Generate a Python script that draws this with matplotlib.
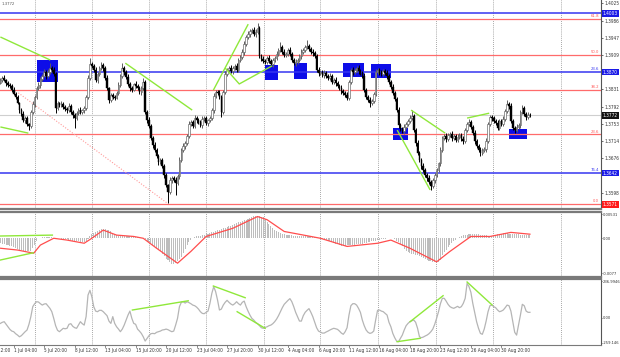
import numpy as np
import matplotlib.pyplot as plt
from matplotlib import font_manager
from matplotlib.patches import Rectangle
from matplotlib.transforms import blended_transform_factory

# pick a narrow font when one is installed (the original uses a condensed UI font)
_names = {f.name for f in font_manager.fontManager.ttflist}
_cond = any(f.name == 'DejaVu Sans' and f.stretch == 'condensed' for f in font_manager.fontManager.ttflist)
if 'Liberation Sans Narrow' in _names:
    plt.rcParams['font.family'] = ['Liberation Sans Narrow', 'DejaVu Sans']
    fs = 3.7
elif _cond:
    plt.rcParams['font.family'] = ['DejaVu Sans']
    plt.rcParams['font.stretch'] = 'condensed'
    fs = 3.4
else:
    plt.rcParams['font.family'] = ['Liberation Sans', 'DejaVu Sans']
    fs = 3.1

# ---- price data (H4 bars, closes in pips over 1.0000) ----
first_open = 3846
close_pips = [
    3852, 3857, 3852, 3845, 3841, 3839, 3830, 3821, 3814, 3800, 3784, 3775, 3762, 3766, 3753, 3748, 3780, 3798, 3814, 3834,
    3841, 3854, 3861, 3870, 3861, 3870, 3879, 3875, 3866, 3789, 3800, 3796, 3798, 3791, 3787, 3784, 3793, 3780, 3773, 3766,
    3778, 3784, 3780, 3784, 3789, 3814, 3857, 3888, 3884, 3875, 3852, 3866, 3879, 3886, 3879, 3857, 3834, 3807, 3818, 3814,
    3812, 3823, 3841, 3861, 3879, 3870, 3859, 3843, 3834, 3830, 3843, 3839, 3834, 3825, 3834, 3848, 3780, 3762, 3748, 3721,
    3705, 3694, 3680, 3667, 3671, 3658, 3637, 3615, 3599, 3626, 3631, 3626, 3619, 3635, 3671, 3694, 3703, 3710, 3726, 3753,
    3757, 3748, 3766, 3762, 3757, 3750, 3764, 3766, 3755, 3762, 3766, 3784, 3816, 3825, 3823, 3814, 3780, 3825, 3866, 3875,
    3879, 3872, 3879, 3884, 3875, 3897, 3904, 3915, 3934, 3949, 3956, 3963, 3965, 3956, 3961, 3970, 3906, 3900, 3895, 3893,
    3902, 3895, 3888, 3897, 3902, 3911, 3920, 3927, 3915, 3909, 3911, 3920, 3911, 3897, 3890, 3893, 3897, 3906, 3915, 3920,
    3927, 3929, 3922, 3915, 3913, 3906, 3875, 3868, 3870, 3863, 3868, 3861, 3857, 3861, 3848, 3852, 3845, 3839, 3834, 3827,
    3823, 3818, 3812, 3848, 3875, 3870, 3875, 3879, 3872, 3868, 3861, 3830, 3814, 3807, 3800, 3804, 3821, 3870, 3875, 3868,
    3866, 3872, 3868, 3861, 3848, 3836, 3823, 3809, 3784, 3750, 3741, 3737, 3746, 3753, 3760, 3766, 3771, 3739, 3710, 3687,
    3671, 3658, 3649, 3637, 3631, 3622, 3613, 3626, 3637, 3649, 3664, 3694, 3721, 3726, 3719, 3728, 3730, 3721, 3726, 3717,
    3723, 3728, 3719, 3714, 3739, 3753, 3757, 3746, 3732, 3714, 3703, 3694, 3687, 3694, 3696, 3714, 3753, 3768, 3766, 3760,
    3755, 3744, 3760, 3753, 3764, 3782, 3798, 3793, 3760, 3744, 3739, 3746, 3750, 3780, 3789, 3775, 3768, 3773, 3772,
]
wick_up = [
    5, 4, 6, 3, 4, 5, 3, 6, 4, 5, 3, 4, 6, 5, 4, 3, 5, 6, 4, 5,
    6, 4, 5, 7, 4, 6, 11, 5, 6, 4, 5, 3, 6, 4, 5, 3, 6, 4, 5, 4,
    5, 4, 6, 3, 5, 4, 6, 14, 5, 4, 6, 5, 4, 7, 5, 4, 6, 3, 5, 4,
    5, 4, 6, 5, 11, 4, 5, 6, 4, 5, 3, 6, 4, 5, 4, 8, 5, 4, 6, 5,
    4, 6, 5, 4, 6, 5, 4, 5, 3, 6, 5, 4, 6, 5, 7, 4, 6, 5, 4, 6,
    5, 4, 6, 5, 4, 5, 6, 4, 5, 3, 5, 4, 6, 5, 4, 6, 5, 4, 6, 5,
    4, 6, 5, 4, 6, 5, 4, 6, 5, 4, 6, 5, 4, 6, 5, 11, 4, 5, 6, 4,
    5, 6, 4, 5, 4, 6, 5, 11, 4, 6, 5, 4, 6, 5, 4, 6, 5, 4, 6, 5,
    4, 14, 5, 4, 6, 5, 4, 6, 5, 4, 6, 5, 4, 6, 5, 4, 6, 5, 4, 6,
    5, 4, 6, 5, 4, 6, 5, 4, 6, 5, 4, 6, 5, 4, 6, 5, 4, 6, 5, 4,
    6, 5, 4, 6, 5, 4, 6, 5, 4, 6, 5, 4, 6, 5, 4, 6, 13, 5, 4, 6,
    5, 4, 6, 5, 4, 6, 5, 4, 6, 5, 4, 6, 5, 4, 6, 5, 4, 6, 5, 4,
    6, 5, 4, 6, 5, 4, 6, 5, 4, 6, 5, 4, 6, 5, 4, 6, 5, 4, 6, 5,
    4, 6, 5, 4, 6, 5, 9, 4, 6, 5, 4, 6, 5, 4, 7, 5, 4, 6, 5,
]
wick_dn = [
    4, 5, 3, 6, 4, 5, 6, 4, 5, 3, 6, 4, 5, 6, 4, 9, 5, 4, 6, 5,
    4, 6, 5, 3, 6, 4, 5, 6, 4, 12, 5, 4, 6, 5, 4, 6, 5, 4, 6, 22,
    4, 6, 5, 4, 6, 5, 4, 5, 6, 4, 5, 6, 4, 5, 6, 4, 5, 7, 4, 6,
    5, 4, 6, 5, 4, 6, 5, 4, 6, 5, 4, 6, 5, 4, 6, 5, 4, 6, 5, 4,
    6, 5, 4, 6, 5, 4, 6, 5, 25, 4, 6, 5, 27, 4, 6, 5, 4, 6, 5, 4,
    6, 5, 4, 6, 5, 4, 6, 5, 4, 6, 5, 4, 6, 5, 4, 6, 12, 5, 4, 6,
    5, 4, 6, 5, 4, 6, 5, 4, 6, 5, 4, 6, 5, 4, 6, 5, 4, 6, 5, 4,
    6, 5, 4, 6, 5, 4, 6, 5, 4, 6, 5, 4, 6, 5, 4, 6, 5, 4, 6, 5,
    4, 6, 5, 4, 6, 5, 4, 6, 5, 4, 6, 5, 4, 6, 5, 4, 6, 5, 4, 6,
    5, 4, 5, 5, 4, 6, 5, 4, 6, 5, 4, 6, 5, 4, 9, 5, 4, 6, 5, 4,
    6, 5, 4, 6, 5, 4, 6, 5, 4, 6, 5, 4, 6, 5, 4, 6, 5, 4, 6, 5,
    4, 6, 5, 4, 6, 5, 9, 4, 6, 5, 4, 6, 5, 4, 6, 5, 4, 6, 5, 4,
    6, 5, 4, 6, 5, 4, 6, 5, 4, 6, 5, 4, 6, 5, 4, 6, 5, 4, 6, 5,
    4, 6, 5, 4, 6, 5, 4, 6, 5, 4, 6, 5, 4, 6, 5, 4, 6, 5, 4,
]

# ---- MACD (units of 1e-4) ----
macd_hist = [
    -11, -12, -13, -14, -15, -16, -18, -20, -22, -23, -25, -26, -27, -28, -29, -29, -28, -22, -15, -6,
    0, 1.5, 2, 2, 2, 2, 2, 2, 1.5, 1, 0, 0, -1, -1, -2, -2, -3, -4, -5, -6,
    -7, -7, -8, -8, -9, -6, -2, 5, 9, 12, 14, 16, 18, 20, 21, 20, 19, 18, 16, 12,
    9, 7, 5, 4, 4, 4, 4, 4, 4, 4, 4, 3, 3, 2, 1, 0, -2, -5, -8, -11,
    -15, -18, -22, -25, -29, -34, -40, -45, -49, -53, -57, -56, -55, -51, -46, -41, -32, -23, -15, -9,
    -4, 0, 2, 4, 5, 6, 7, 8, 9, 10, 12, 13, 14, 15, 18, 19, 20, 22, 23, 25,
    26, 27, 29, 31, 33, 35, 37, 38, 40, 41, 43, 45, 47, 49, 50, 50, 49, 48, 46, 42,
    37, 31, 26, 22, 18, 15, 13, 11, 10, 9, 8, 8, 7, 7, 6, 6, 6, 5, 5, 5,
    5, 4, 4, 4, 3, 2, 1, 0, 0, -1, -3, -4, -6, -7, -9, -10, -12, -13, -15, -16,
    -16, -16, -15, -15, -15, -14, -14, -13, -13, -13, -12, -11, -10, -9, -8, -7, -6, -5, -4, -3,
    -2, -1, -1, 0, 0, 0, 0, -2, -5, -9, -13, -18, -23, -28, -30, -32, -34, -35, -36, -37,
    -39, -41, -43, -45, -48, -50, -51, -52, -53, -53, -52, -47, -37, -31, -25, -19, -15, -10, -6, -3,
    0, 2, 5, 7, 8, 8, 9, 9, 9, 9, 9, 9, 8, 8, 7, 7, 6, 6, 6, 7,
    8, 9, 10, 10, 11, 11, 11, 10, 10, 10, 9, 9, 9, 8, 8, 8, 7, 7, 7,
]
signal_bar = [0, 9, 17.5, 21, 28, 35, 44, 48, 54, 61, 70, 75, 82, 93, 100, 108, 122, 135, 140, 149,
              163, 168, 182, 198, 205, 215, 229, 236, 247, 257, 268, 278]
signal_val = [-22, -26, -33, -15, 0, -4, -11, 0, 18, 7, 4, 0, -22, -55, -29, 4, 22, 48, 41, 15,
              4, 0, -18, -11, -4, -22, -52, -29, 4, 4, 13, 9]

# ---- CCI ----
cci = [
    -37, -30, -26, -43, -59, -76, -87, -91, -104, -113, -124, -117, -104, -91, -80, -43, 7, 72, 91, 104,
    102, 91, 82, 89, 91, 76, 61, 39, -4, -52, -82, -91, -80, -69, -72, -69, -43, -39, -56, -65,
    -69, -48, -26, -39, -48, 7, 147, 178, 137, 72, 43, 39, 48, 48, 39, 26, 13, -22, -37, 7,
    -37, -59, -74, -91, -74, -48, -15, 17, 43, -4, -37, -43, -74, -87, -102, -124, -152, -134, -117, -104,
    -102, -104, -95, -91, -87, -80, -78, -74, -78, -85, -91, -87, -48, -4, 72, 100, 104, 95, 104, 98,
    91, 82, 78, 69, 56, 39, 28, 26, 35, 43, 93, 158, 202, 169, 115, 50, 56, 82, 100, 113,
    100, 89, 82, 91, 104, 91, 82, 100, 108, 72, 43, 17, -4, -15, -30, -39, -52, -65, -69, -63,
    -59, -52, -48, -39, -26, -9, 13, 39, 65, 87, 100, 113, 124, 104, 72, 35, 7, -22, -22, 13,
    35, 48, 59, 35, 7, -30, -65, -87, -93, -100, -100, -93, -87, -80, -74, -69, -72, -76, -87, -100,
    -108, -91, -65, 17, 78, 91, 91, 82, 61, 35, -15, -52, -80, -95, -102, -98, -87, -15, 48, 50,
    43, 39, 28, 17, -30, -59, -102, -130, -152, -156, -134, -113, -80, -52, -37, -26, -20, -15, -30, -69,
    -124, -130, -126, -119, -113, -104, -91, -74, -43, -4, 39, 91, 126, 126, 108, 87, 72, 65, 61, 67,
    74, 65, 72, 93, 126, 223, 202, 165, 93, 35, -26, -69, -102, -108, -74, -22, 39, 78, 82, 72,
    65, 50, 39, 43, 50, 65, 82, 78, 43, -26, -95, -113, -48, 17, 87, 78, 43, 35, 35,
]

# ---- levels, labels ----
blue_levels = [1.4003, 1.3870, 1.3642]
blue_tags = ["", "23.6", "76.4"]
fib_levels = [1.3989, 1.3908, 1.3829, 1.3729, 1.3572]
fib_tags = ["61.8", "50.0", "38.2", "23.6", "0.0"]
last_price = 1.3772
price_ticks = [1.4025, 1.3986, 1.3947, 1.3909, 1.3831, 1.3792, 1.3753, 1.3714, 1.3676, 1.3598]
price_tags = [("1.4003", 1.4003, "#1a1ae6"), ("1.3870", 1.3870, "#1a1ae6"),
              ("1.3772", 1.3772, "#111111"), ("1.3642", 1.3642, "#1a1ae6"),
              ("1.3571", 1.3571, "#ff1a1a")]
time_bars = [-9, 7, 23, 39, 55, 71, 87, 103, 119, 135, 151, 167, 183, 199, 215, 231, 247, 263]
time_labels = ["28 Jun 12:00", "1 Jul 04:00", "5 Jul 20:00", "8 Jul 12:00", "13 Jul 04:00",
               "15 Jul 20:00", "20 Jul 12:00", "23 Jul 04:00", "27 Jul 20:00", "30 Jul 12:00",
               "4 Aug 04:00", "6 Aug 20:00", "11 Aug 12:00", "16 Aug 04:00", "18 Aug 20:00",
               "23 Aug 12:00", "26 Aug 04:00", "30 Aug 20:00"]
grid_bars = [18.4, 48.3, 78.2, 108.1, 138.5, 167.9, 198.3, 228.8, 258.7, 294.3]

# drawn objects (bar index, price)
boxes = [(19.4, 30.4, 1.3847, 1.3897), (139, 145.9, 1.3852, 1.3886), (154.2, 161.1, 1.3854, 1.3890),
         (180, 191, 1.3859, 1.3890), (194.6, 205.1, 1.3856, 1.3888), (206.2, 214.1, 1.3717, 1.3744),
         (267, 276.5, 1.3719, 1.3741)]
green_main = [([0, 26.2], [1.3949, 1.3897]), ([0, 14.7], [1.3746, 1.3732]),
              ([65.6, 100.7], [1.3890, 1.3784]), ([111.8, 130.1], [1.3829, 1.3978]),
              ([118, 125.4, 142.7], [1.3879, 1.3843, 1.3884]), ([208.3, 225.6], [1.3739, 1.3604]),
              ([215.6, 233.5], [1.3784, 1.3732]), ([245, 256.6], [1.3766, 1.3777])]
green_macd = [([0, 27.3], [5, 7]), ([0, 17.3], [-48, -32])]
green_cci = [([69.3, 98.6], [50, 110]), ([111.8, 128.5], [206, 130]), ([124.3, 139], [39, -69]),
             ([208.3, 220.4], [-156, -134]), ([215.1, 232.4], [-26, 143]), ([245, 258.1], [232, 83])]

# ---------------------------------------------------------------
bars = np.arange(len(close_pips))
close = 1 + np.array(close_pips) / 1e4
open_ = np.r_[1 + first_open / 1e4, close[:-1]]
high = np.maximum(open_, close) + np.array(wick_up) / 1e4
low = np.minimum(open_, close) - np.array(wick_dn) / 1e4
bull = close >= open_

W, H = 620, 357
fig = plt.figure(figsize=(6.2, 3.57), dpi=100)
ax = fig.add_axes([0, 1 - 209 / H, 601 / W, 209 / H])
ax2 = fig.add_axes([0, 1 - 277 / H, 601 / W, 65 / H])
ax3 = fig.add_axes([0, 1 - 345 / H, 601 / W, 66 / H])

green = '#8fe83a'
xlim = (-0.2, 315.3)

for a in (ax, ax2, ax3):
    a.set_xlim(*xlim)
    a.yaxis.tick_right()
    a.spines['left'].set_visible(False)
    a.spines['right'].set_color('#555555')
    a.spines['right'].set_linewidth(0.8)
    for s in ('top', 'bottom'):
        a.spines[s].set_color('#7a7a7a')
        a.spines[s].set_linewidth(1.6)
    a.tick_params(axis='y', length=1.5, width=0.5, pad=1.0, labelsize=fs, colors='#333333')
    for g in grid_bars:
        a.axvline(g, color='#8a8a8a', lw=0.6, ls=(0, (1, 1.5)), zorder=0.5)
ax.spines['top'].set_visible(False)
ax.set_xticks([])
ax2.set_xticks([])
for a in (ax2, ax3):
    a.tick_params(axis='y', length=1, pad=0.6, labelsize=fs - 0.4)

# ---- main chart ----
ax.set_ylim(1.35608, 1.40325)
for x0, x1, y0, y1 in boxes:
    ax.add_patch(Rectangle((x0, y0), x1 - x0, y1 - y0, facecolor='#0d0de8', edgecolor='none', zorder=1))
for lvl in fib_levels:
    ax.axhline(lvl, color='#ff6b6b', lw=0.9, zorder=1.2)
for lvl in blue_levels:
    ax.axhline(lvl, color='#3535f0', lw=1.1, zorder=1.2)
ax.axhline(last_price, color='#cfcfcf', lw=0.8, zorder=1.1)
for lvl, tag in zip(fib_levels, fib_tags):
    ax.text(314.3, lvl + 0.0002, tag, color='#ff5555', fontsize=fs - 0.3, ha='right', va='bottom')
for lvl, tag in zip(blue_levels, blue_tags):
    ax.text(314.3, lvl + 0.0002, tag, color='#3535f0', fontsize=fs - 0.3, ha='right', va='bottom')

ax.plot([9.4, 87.6], [1.3823, 1.3574], color='#ff9a9a', lw=0.8, ls=(0, (1, 1.5)), zorder=1.3)

ax.vlines(bars, low, high, colors=np.where(bull, '#5e5e5e', '#000000'), lw=0.7, zorder=2)
ax.bar(bars[bull], (close - open_)[bull], bottom=open_[bull], width=0.85,
       color='white', edgecolor='#5e5e5e', linewidth=0.45, zorder=3)
ax.bar(bars[~bull], (close - open_)[~bull], bottom=open_[~bull], width=0.85,
       color='black', edgecolor='black', linewidth=0.3, zorder=3)

for xs, ys in green_main:
    ax.plot(xs, ys, color=green, lw=1.0, zorder=4, solid_capstyle='butt')

ax.set_yticks(price_ticks)
ax.set_yticklabels([f"{p:.4f}" for p in price_ticks])
for txt, lvl, col in price_tags:
    ax.text(1.003, lvl, txt, transform=ax.get_yaxis_transform(), fontsize=fs, color='white',
            va='center', ha='left', clip_on=False, zorder=10,
            bbox=dict(boxstyle='square,pad=0.2', fc=col, ec='none'))
ax.text(0.003, 0.99, "1.3772", transform=ax.transAxes, fontsize=fs - 0.3, color='#555555',
        ha='left', va='top')

# ---- MACD ----
hist = np.array(macd_hist) * 1e-4
ax2.set_ylim(-85.5e-4, 58e-4)
ax2.bar(bars, hist, width=0.55, color='#bdbdbd', zorder=2)
ax2.plot(signal_bar, np.array(signal_val) * 1e-4, color='#ff4d4d', lw=0.9, zorder=3)
for xs, ys in green_macd:
    ax2.plot(xs, np.array(ys) * 1e-4, color=green, lw=1.0, zorder=4)
ax2.set_yticks([53.1e-4, 0, -77e-4])
ax2.set_yticklabels(["0.00531", "0.00", "-0.0077"])

# ---- CCI ----
ax3.set_ylim(-177.5, 251.6)
ax3.plot(bars, cci, color='#b5b5b5', lw=0.9, zorder=2)
for xs, ys in green_cci:
    ax3.plot(xs, ys, color=green, lw=1.0, zorder=4)
ax3.set_yticks([237, 0, -164])
ax3.set_yticklabels(["236.9946", "0.00", "-259.146"])
ax3.spines['bottom'].set_linewidth(0.8)
ax3.set_xticks([])

# time labels: left edge at the bar, drawn by hand so labels left of the view keep their place
tr = blended_transform_factory(ax3.transData, ax3.transAxes)
for b, lbl in zip(time_bars, time_labels):
    ax3.plot([b, b], [0, -0.03], transform=tr, color='#555555', lw=0.5, clip_on=False)
    ax3.text(b, -0.045, lbl, transform=tr, fontsize=fs, color='#333333',
             ha='left', va='top', clip_on=False)

fig.savefig('out.png', dpi=100)
